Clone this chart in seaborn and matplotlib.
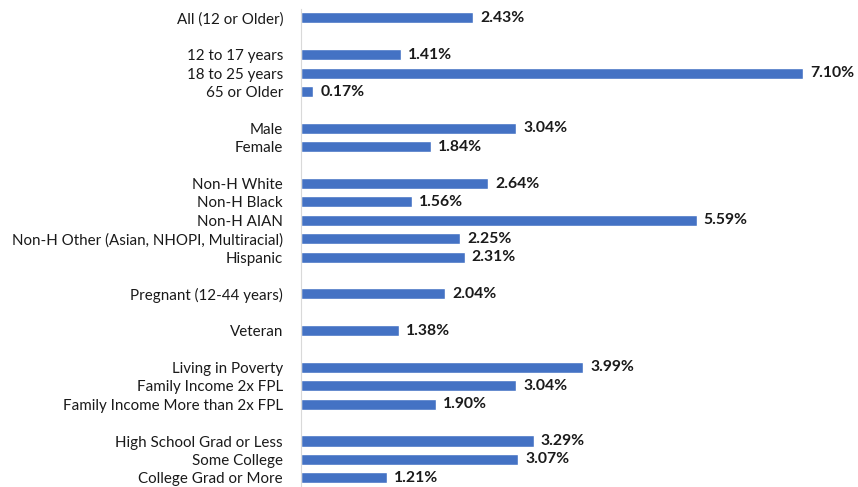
import matplotlib
matplotlib.use("Agg")
import matplotlib.pyplot as plt
import seaborn as sns
import pandas as pd

categories = ["All (12 or Older)",
              "12 to 17 years", "18 to 25 years", "65 or Older",
              "Male", "Female",
              "Non-H White", "Non-H Black", "Non-H AIAN",
              "Non-H Other (Asian, NHOPI, Multiracial)", "Hispanic",
              "Pregnant (12-44 years)",
              "Veteran",
              "Living in Poverty", "Family Income 2x FPL", "Family Income More than 2x FPL",
              "High School Grad or Less", "Some College", "College Grad or More"]
values = [2.43,
          1.41, 7.10, 0.17,
          3.04, 1.84,
          2.64, 1.56, 5.59, 2.25, 2.31,
          2.04,
          1.38,
          3.99, 3.04, 1.90,
          3.29, 3.07, 1.21]
groups = [0, 1, 1, 1, 2, 2, 3, 3, 3, 3, 3, 4, 5, 6, 6, 6, 7, 7, 7]

# build category order with blank spacer rows between groups
order = []
prev = groups[0]
spacer = 0
for c, g in zip(categories, groups):
    if g != prev:
        spacer += 1
        order.append(" " * spacer)
        prev = g
    order.append(c)

df = pd.DataFrame({"label": categories, "value": values})

sns.set_style("white")
plt.rcParams["font.family"] = ["Lato", "DejaVu Sans"]

fig = plt.figure(figsize=(8.58, 4.87), dpi=100)
ax = fig.add_axes([0.351, 0.0, 0.639, 0.982])

sns.barplot(data=df, x="value", y="label", order=order, orient="h",
            color="#4472C4", saturation=1, width=0.6, ax=ax)

for c, v in zip(categories, values):
    ax.text(v + 0.1, order.index(c), f"{v:.2f}%", va="center", ha="left",
            fontsize=11.3, fontweight="bold", color="#1a1a1a")

ax.set_xlim(0, 7.75)
ax.set_ylim(len(order) - 0.5, -0.5)
ax.set_xlabel("")
ax.set_ylabel("")
ax.set_xticks([])
ax.tick_params(axis="y", length=0, pad=13, labelsize=10.9, labelcolor="#1a1a1a")
for s in ["top", "right", "bottom"]:
    ax.spines[s].set_visible(False)
ax.spines["left"].set_color("#d9d9d9")
ax.spines["left"].set_linewidth(0.8)

fig.savefig("out.png", dpi=100)
